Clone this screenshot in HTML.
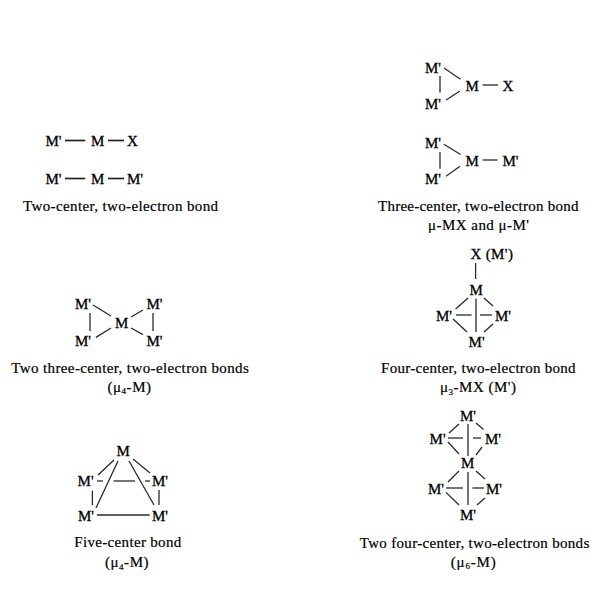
<!DOCTYPE html>
<html><head><meta charset="utf-8"><title>Bond types</title>
<style>
html,body{margin:0;padding:0;background:#fff;width:600px;height:600px;overflow:hidden}
svg{display:block}
text{font-family:"Liberation Serif",serif;font-size:15px;fill:#000;stroke:#000;stroke-width:0.3px}
text.c{stroke-width:0.2px}
line{stroke:#2a2a2a;stroke-width:1.3px;stroke-linecap:butt}
line.h{stroke:#222;stroke-width:1.7px}
</style></head><body>
<svg width="600" height="600" viewBox="0 0 600 600">
<rect width="600" height="600" fill="#fff"/>
<g>
<text x="45.50" y="146.25">M&#39;</text>
<text x="91.00" y="146.25">M</text>
<text x="127.00" y="146.25">X</text>
<text x="45.50" y="183.75">M&#39;</text>
<text x="91.00" y="183.75">M</text>
<text x="127.00" y="183.75">M&#39;</text>
<text x="23.00" y="211.00" textLength="195.00" lengthAdjust="spacing" class="c">Two-center, two-electron bond</text>
<text x="425.00" y="72.50">M&#39;</text>
<text x="425.00" y="108.75">M&#39;</text>
<text x="465.50" y="90.50">M</text>
<text x="502.50" y="90.50">X</text>
<text x="425.00" y="148.00">M&#39;</text>
<text x="425.00" y="183.75">M&#39;</text>
<text x="465.50" y="166.25">M</text>
<text x="502.50" y="166.25">M&#39;</text>
<text x="378.00" y="211.00" textLength="200.40" lengthAdjust="spacing" class="c">Three-center, two-electron bond</text>
<text x="428.00" y="229.80" textLength="101.00" lengthAdjust="spacing" class="c">μ-MX and μ-M&#39;</text>
<text x="75.00" y="309.40">M&#39;</text>
<text x="146.40" y="309.40">M&#39;</text>
<text x="75.00" y="345.60">M&#39;</text>
<text x="146.40" y="345.60">M&#39;</text>
<text x="115.00" y="328.00">M</text>
<text x="11.25" y="373.20" textLength="237.50" lengthAdjust="spacing" class="c">Two three-center, two-electron bonds</text>
<text x="107.50" y="391.50" textLength="43.50" lengthAdjust="spacing" class="c">(μ<tspan font-size="9" dy="2.5">4</tspan><tspan dy="-2.5">-M)</tspan></text>
<text x="470.40" y="258.80" textLength="42.50" lengthAdjust="spacing">X (M&#39;)</text>
<text x="469.60" y="295.20">M</text>
<text x="436.00" y="320.50">M&#39;</text>
<text x="495.00" y="320.50">M&#39;</text>
<text x="468.60" y="347.00">M&#39;</text>
<text x="381.00" y="373.00" textLength="194.60" lengthAdjust="spacing" class="c">Four-center, two-electron bond</text>
<text x="440.00" y="392.00" textLength="76.00" lengthAdjust="spacing" class="c">μ<tspan font-size="9" dy="2.5">3</tspan><tspan dy="-2.5">-MX (M&#39;)</tspan></text>
<text x="116.40" y="456.00">M</text>
<text x="77.60" y="486.00">M&#39;</text>
<text x="152.00" y="486.00">M&#39;</text>
<text x="78.00" y="520.50">M&#39;</text>
<text x="152.00" y="520.50">M&#39;</text>
<text x="74.25" y="547.00" textLength="107.00" lengthAdjust="spacing" class="c">Five-center bond</text>
<text x="105.00" y="567.00" textLength="43.50" lengthAdjust="spacing" class="c">(μ<tspan font-size="9" dy="2.5">4</tspan><tspan dy="-2.5">-M)</tspan></text>
<text x="460.00" y="420.80">M&#39;</text>
<text x="429.60" y="444.40">M&#39;</text>
<text x="485.00" y="444.40">M&#39;</text>
<text x="461.00" y="467.60">M</text>
<text x="428.00" y="493.80">M&#39;</text>
<text x="486.00" y="493.80">M&#39;</text>
<text x="460.00" y="519.60">M&#39;</text>
<text x="359.75" y="547.75" textLength="229.50" lengthAdjust="spacing" class="c">Two four-center, two-electron bonds</text>
<text x="450.75" y="566.50" textLength="45.00" lengthAdjust="spacing" class="c">(μ<tspan font-size="9" dy="2.5">6</tspan><tspan dy="-2.5">-M)</tspan></text>
</g>
<g>
<line x1="65.00" y1="140.50" x2="85.20" y2="140.50" class="h"/>
<line x1="108.00" y1="140.50" x2="124.00" y2="140.50" class="h"/>
<line x1="65.00" y1="178.50" x2="85.20" y2="178.50" class="h"/>
<line x1="108.00" y1="178.50" x2="124.00" y2="178.50" class="h"/>
<line x1="440.00" y1="76.00" x2="440.00" y2="92.50"/>
<line x1="444.00" y1="68.00" x2="460.50" y2="79.25"/>
<line x1="446.00" y1="100.00" x2="460.00" y2="91.00"/>
<line x1="482.50" y1="85.00" x2="498.00" y2="85.00"/>
<line x1="440.00" y1="152.00" x2="440.00" y2="168.75"/>
<line x1="444.00" y1="144.25" x2="460.50" y2="154.50"/>
<line x1="446.00" y1="176.25" x2="460.00" y2="166.25"/>
<line x1="482.50" y1="160.00" x2="497.50" y2="160.00"/>
<line x1="90.00" y1="313.00" x2="90.00" y2="331.00"/>
<line x1="153.00" y1="313.00" x2="153.00" y2="331.00"/>
<line x1="93.00" y1="305.00" x2="111.00" y2="316.00"/>
<line x1="131.00" y1="317.00" x2="143.00" y2="310.00"/>
<line x1="96.00" y1="337.40" x2="111.00" y2="328.00"/>
<line x1="131.00" y1="328.00" x2="143.00" y2="334.60"/>
<line x1="475.60" y1="263.00" x2="475.60" y2="279.00"/>
<line x1="476.00" y1="298.60" x2="476.00" y2="332.00"/>
<line x1="468.00" y1="298.00" x2="455.60" y2="309.00"/>
<line x1="484.00" y1="298.00" x2="493.00" y2="306.00"/>
<line x1="453.00" y1="319.00" x2="467.00" y2="332.00"/>
<line x1="493.00" y1="324.00" x2="484.00" y2="332.00"/>
<line x1="456.00" y1="315.00" x2="471.60" y2="315.00"/>
<line x1="480.00" y1="315.00" x2="492.00" y2="315.00"/>
<line x1="114.00" y1="460.00" x2="98.00" y2="475.00"/>
<line x1="133.00" y1="459.00" x2="150.00" y2="473.00"/>
<line x1="118.00" y1="461.00" x2="96.00" y2="508.00"/>
<line x1="129.00" y1="461.00" x2="154.00" y2="505.00"/>
<line x1="97.00" y1="481.00" x2="103.00" y2="481.00"/>
<line x1="113.60" y1="481.00" x2="135.00" y2="481.00"/>
<line x1="145.00" y1="481.00" x2="150.00" y2="481.00"/>
<line x1="92.40" y1="490.60" x2="92.40" y2="505.00"/>
<line x1="159.00" y1="490.00" x2="159.00" y2="505.00"/>
<line x1="97.00" y1="515.00" x2="149.60" y2="515.00"/>
<line x1="468.00" y1="424.00" x2="468.00" y2="456.00"/>
<line x1="459.00" y1="424.00" x2="449.00" y2="433.00"/>
<line x1="476.00" y1="423.00" x2="483.50" y2="429.50"/>
<line x1="448.00" y1="442.00" x2="459.00" y2="454.00"/>
<line x1="482.00" y1="447.00" x2="476.00" y2="455.00"/>
<line x1="448.00" y1="438.00" x2="463.00" y2="438.00"/>
<line x1="473.00" y1="438.00" x2="481.00" y2="438.00"/>
<line x1="468.00" y1="472.00" x2="468.00" y2="505.00"/>
<line x1="459.00" y1="471.00" x2="448.00" y2="482.00"/>
<line x1="476.00" y1="471.00" x2="485.00" y2="479.00"/>
<line x1="446.00" y1="492.40" x2="459.00" y2="505.00"/>
<line x1="485.00" y1="498.00" x2="477.00" y2="505.00"/>
<line x1="446.00" y1="488.00" x2="463.00" y2="488.00"/>
<line x1="472.40" y1="488.00" x2="484.00" y2="488.00"/>
</g>
</svg>
</body></html>
